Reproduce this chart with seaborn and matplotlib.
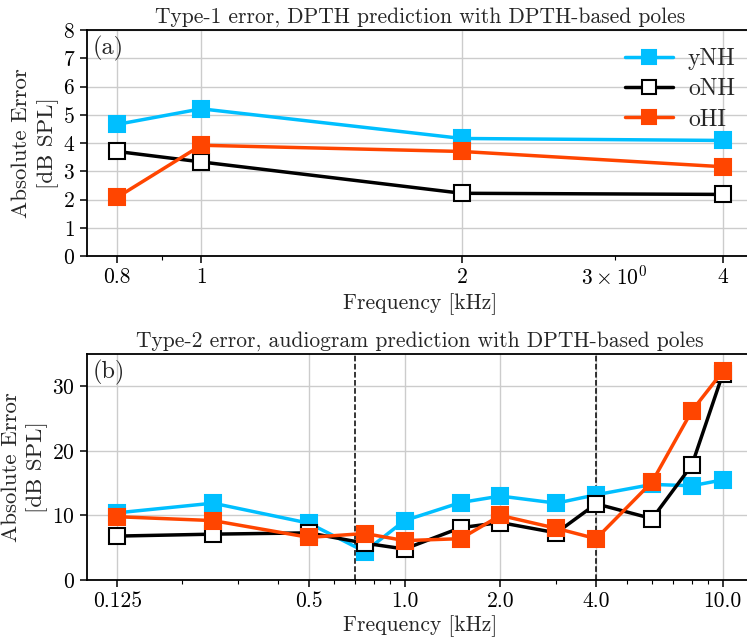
import numpy as np
import pandas as pd
import matplotlib
matplotlib.use("Agg")
import matplotlib.pyplot as plt
import seaborn as sns

# ---------------- data ----------------
freq_a = [0.8, 1.0, 2.0, 4.0]
ynh_a = [4.66, 5.21, 4.16, 4.09]
onh_a = [3.70, 3.33, 2.22, 2.18]
ohi_a = [2.08, 3.92, 3.70, 3.16]
ticks_a = [0.8, 1, 2, 4]
ticklabels_a = ["0.8", "1", "2", "4"]

freq_b = [0.125, 0.25, 0.5, 0.75, 1.0, 1.5, 2.0, 3.0, 4.0, 6.0, 8.0, 10.0]
ynh_b = [10.4, 11.9, 8.8, 4.4, 9.2, 12.0, 13.0, 11.9, 13.2, 14.8, 14.6, 15.5]
onh_b = [6.8, 7.1, 7.3, 5.7, 4.8, 8.1, 8.9, 7.3, 11.8, 9.5, 17.8, 31.9]
ohi_b = [9.8, 9.2, 6.6, 7.2, 6.1, 6.4, 10.0, 8.0, 6.4, 15.2, 26.2, 32.3]
ticks_b = [0.125, 0.5, 1.0, 2.0, 4.0, 10.0]
ticklabels_b = ["0.125", "0.5", "1.0", "2.0", "4.0", "10.0"]
vlines_b = [0.7, 4.0]

series = ["yNH", "oNH", "oHI"]
colors = {"yNH": "#00BFFF", "oNH": "black", "oHI": "#FF4500"}
faces = {"yNH": "#00BFFF", "oNH": "white", "oHI": "#FF4500"}

TICK_FS = 15.5
LABEL_FS = 16.5
TITLE_FS = 15.5
XLABEL_FS = 15.5
LEGEND_FS = 17

# ---------------- style ----------------
sns.set_style("ticks")
plt.rcParams.update({
    "font.family": ["cmr10", "DejaVu Serif"],
    "mathtext.fontset": "cm",
    "axes.formatter.use_mathtext": True,
    "axes.unicode_minus": False,
    "font.size": TICK_FS,
    "axes.linewidth": 1.3,
    "xtick.direction": "out",
    "ytick.direction": "out",
    "xtick.color": "black",
    "ytick.color": "black",
    "axes.edgecolor": "black",
})

fig = plt.figure(figsize=(7.47, 6.43), dpi=100)
W, H = 747, 643

def px_axes(l, r, t, b):
    return fig.add_axes([l / W, 1 - b / H, (r - l) / W, (b - t) / H])

ax1 = px_axes(87, 753, 30, 256)
ax2 = px_axes(87, 753, 354, 580)

def draw(ax, freq, vals):
    for s, v in zip(series, vals):
        d = pd.DataFrame({"freq": freq, "err": v})
        sns.lineplot(data=d, x="freq", y="err", ax=ax, color=colors[s],
                     marker="s", markersize=11, markerfacecolor=faces[s],
                     markeredgecolor=colors[s], markeredgewidth=1.5,
                     linewidth=2.5, label=s, legend=False)
    ax.set_xscale("log")
    ax.grid(True, which="major", color="#cccccc", linewidth=1.0)
    ax.set_axisbelow(True)
    ax.tick_params(labelsize=TICK_FS, length=5, width=1.1)
    ax.tick_params(which="minor", length=3, width=0.8)

draw(ax1, freq_a, [ynh_a, onh_a, ohi_a])
draw(ax2, freq_b, [ynh_b, onh_b, ohi_b])

# panel a
ax1.set_ylim(0, 8)
ax1.set_yticks(range(0, 9))
ax1.set_xticks(ticks_a, ticklabels_a)
ax1.set_xlabel("Frequency [kHz]", fontsize=XLABEL_FS, labelpad=3)
ax1.set_ylabel("Absolute Error\n[dB SPL]", fontsize=LABEL_FS, linespacing=1.35, labelpad=3)
ax1.set_title("Type-1 error, DPTH prediction with DPTH-based poles", fontsize=TITLE_FS, pad=5)
ax1.text(0.008, 0.975, "(a)", transform=ax1.transAxes, va="top", ha="left", fontsize=17.5)
ax1.legend(frameon=False, loc="upper right", fontsize=LEGEND_FS, bbox_to_anchor=(1.006, 1.015),
           handlelength=2.0, handletextpad=0.65, labelspacing=0.35, markerscale=0.9)

# panel b
for v in vlines_b:
    ax2.axvline(v, color="black", linestyle="--", linewidth=1.1, zorder=1.5)
ax2.set_ylim(0, 35)
ax2.set_yticks([0, 10, 20, 30])
ax2.set_xticks(ticks_b, ticklabels_b)
ax2.set_xlabel("Frequency [kHz]", fontsize=XLABEL_FS, labelpad=3)
ax2.set_ylabel("Absolute Error\n[dB SPL]", fontsize=LABEL_FS, linespacing=1.35, labelpad=3)
ax2.set_title("Type-2 error, audiogram prediction with DPTH-based poles", fontsize=TITLE_FS, pad=5)
ax2.text(0.008, 0.975, "(b)", transform=ax2.transAxes, va="top", ha="left", fontsize=17.5)

fig.savefig("out.png", dpi=100)
